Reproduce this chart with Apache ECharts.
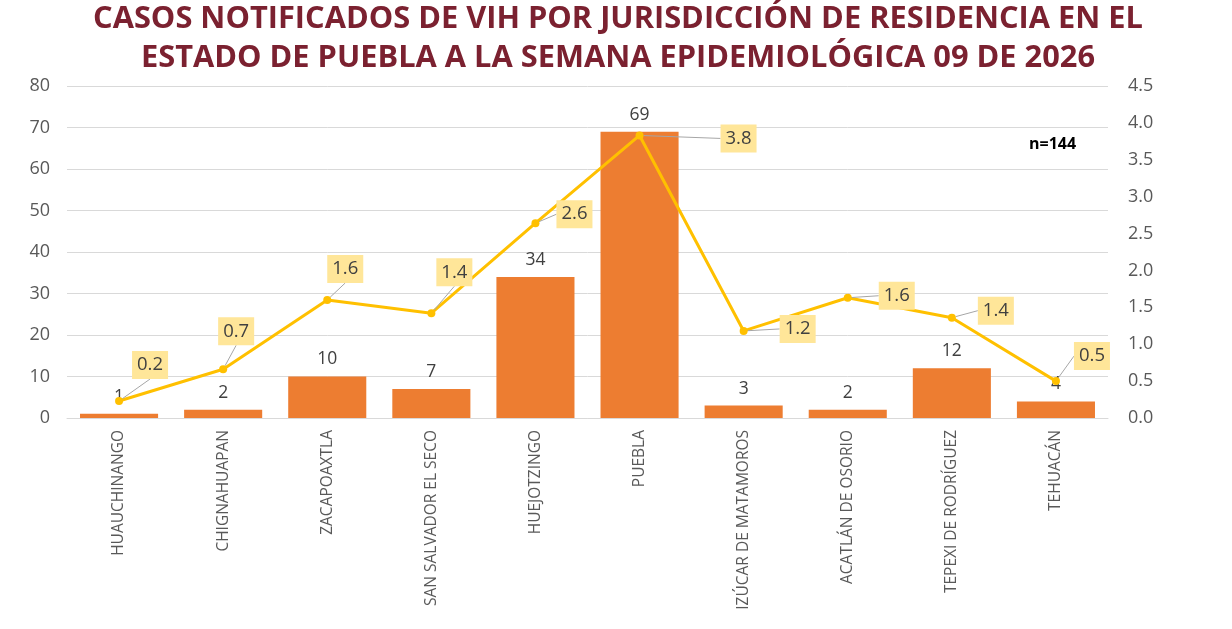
<!DOCTYPE html>
<html>
<head>
<meta charset="utf-8">
<script src="https://cdn.jsdelivr.net/npm/echarts@6/dist/echarts.min.js"></script>
<style>
  html, body { margin: 0; padding: 0; background: #fff; }
  #chart { width: 1232px; height: 629px; }
</style>
</head>
<body>
<div id="chart"></div>
<script>
// categorías (jurisdicciones)
var jurisdicciones = ['HUAUCHINANGO', 'CHIGNAHUAPAN', 'ZACAPOAXTLA', 'SAN SALVADOR EL SECO', 'HUEJOTZINGO',
    'PUEBLA', 'IZÚCAR DE MATAMOROS', 'ACATLÁN DE OSORIO', 'TEPEXI DE RODRÍGUEZ', 'TEHUACÁN'];
// casos notificados
var casos = [1, 2, 10, 7, 34, 69, 3, 2, 12, 4];
// tasa (eje derecho)
var tasa = [0.23, 0.66, 1.60, 1.42, 2.64, 3.83, 1.18, 1.63, 1.36, 0.50];
var totalCasos = 'n=144';

// desplazamiento de las etiquetas de la línea (px)
var offsets = [[31, -36], [13, -38], [18, -31], [23, -41], [39, -9], [99, 3], [54, -2], [49, -2], [44, -7], [36, -25]];

var chart = echarts.init(document.getElementById('chart'));
var fontTxt = '"Open Sans", "Noto Sans", sans-serif';

chart.setOption({
    animation: false,
    textStyle: { fontFamily: fontTxt },
    title: {
        text: 'CASOS NOTIFICADOS DE VIH POR JURISDICCIÓN DE RESIDENCIA EN EL\nESTADO DE PUEBLA A LA SEMANA EPIDEMIOLÓGICA 09 DE 2026',
        left: 613,
        top: -5,
        textAlign: 'center',
        textStyle: {
            color: '#7B2130',
            fontSize: 30.8,
            fontWeight: 'bold',
            fontFamily: '"Liberation Sans Narrow", "Open Sans", sans-serif',
            lineHeight: 39
        }
    },
    graphic: [{
        type: 'text',
        left: 1029,
        top: 136,
        style: { text: totalCasos, fill: '#000', font: 'bold 16px "Open Sans", sans-serif' }
    }],
    grid: { left: 67, right: 124, top: 86, bottom: 211, containLabel: false },
    xAxis: {
        type: 'category',
        data: jurisdicciones,
        axisTick: { show: false },
        axisLine: { lineStyle: { color: '#D9D9D9', width: 1 } },
        axisLabel: {
            rotate: 90,
            interval: 0,
            margin: 12,
            color: '#595959',
            fontSize: 15.5,
            fontFamily: fontTxt
        }
    },
    yAxis: [{
        type: 'value',
        min: 0,
        max: 80,
        interval: 10,
        axisLine: { show: false },
        axisTick: { show: false },
        splitLine: { lineStyle: { color: '#D9D9D9', width: 1 } },
        axisLabel: { color: '#595959', fontSize: 18, margin: 17, fontFamily: fontTxt }
    }, {
        type: 'value',
        min: 0,
        max: 4.5,
        interval: 0.5,
        axisLine: { show: false },
        axisTick: { show: false },
        splitLine: { show: false },
        axisLabel: {
            color: '#595959', fontSize: 18, margin: 20, fontFamily: fontTxt,
            formatter: function (v) { return v.toFixed(1); }
        }
    }],
    series: [{
        name: 'Casos',
        type: 'bar',
        data: casos,
        barCategoryGap: '25%',
        itemStyle: { color: '#ED7D31' },
        label: {
            show: true,
            position: 'top',
            distance: 8,
            color: '#404040',
            fontSize: 17.5,
            fontFamily: fontTxt
        }
    }, {
        name: 'Tasa',
        type: 'line',
        yAxisIndex: 1,
        data: tasa,
        symbol: 'circle',
        symbolSize: 8,
        lineStyle: { color: '#FFC000', width: 3 },
        itemStyle: { color: '#FFC000' },
        label: {
            show: true,
            position: 'inside',
            color: '#404040',
            fontSize: 18.5,
            fontFamily: fontTxt,
            backgroundColor: '#FFE699',
            padding: [5, 5, 4, 5],
            formatter: function (p) { return p.value.toFixed(1); }
        },
        labelLine: { show: true, lineStyle: { color: '#A6A6A6', width: 1 } },
        labelLayout: function (p) {
            var o = offsets[p.dataIndex];
            return { dx: o[0], dy: o[1] };
        },
        z: 3
    }]
});
</script>
</body>
</html>
